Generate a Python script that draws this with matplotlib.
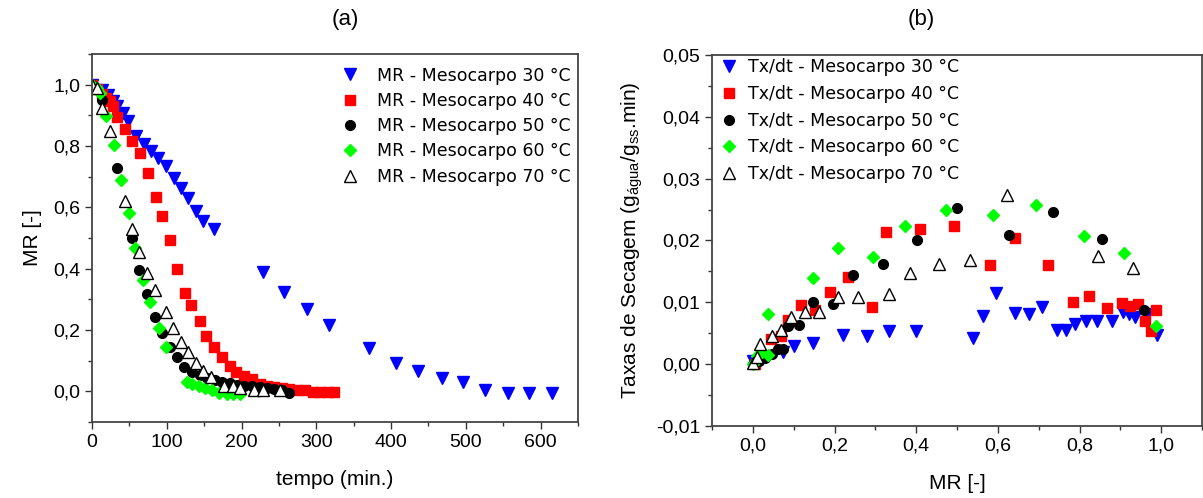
import matplotlib
matplotlib.use("Agg")
import matplotlib.pyplot as plt
from matplotlib.ticker import MultipleLocator, FuncFormatter

plt.rcParams['font.family'] = ['Liberation Sans', 'DejaVu Sans']
plt.rcParams['mathtext.fontset'] = 'custom'
plt.rcParams['mathtext.rm'] = 'Liberation Sans'
plt.rcParams['mathtext.it'] = 'Liberation Sans:italic'

# ---- (a) MR vs tempo ----
t_30 = [0, 14, 21, 28, 34, 41, 48, 59, 69, 79, 88, 99, 109, 119, 128, 139, 149, 163,
        228, 257, 287, 317, 371, 407, 436, 468, 496, 526, 556, 584, 615]
mr_30 = [1.0, 0.981, 0.965, 0.946, 0.930, 0.908, 0.881, 0.832, 0.805, 0.784, 0.760, 0.735,
         0.697, 0.664, 0.632, 0.589, 0.557, 0.530, 0.389, 0.324, 0.270, 0.216, 0.140,
         0.093, 0.067, 0.043, 0.029, 0.003, -0.004, -0.004, -0.006]

t_40 = [0, 7, 13, 19, 24, 28, 34, 44, 54, 64, 75, 85, 94, 104, 114, 124, 133, 144, 153,
        163, 174, 184, 193, 203, 214, 224, 234, 244, 254, 264, 274, 285, 296, 305, 316, 324]
mr_40 = [1.0, 0.985, 0.968, 0.955, 0.946, 0.930, 0.894, 0.857, 0.816, 0.777, 0.711, 0.635,
         0.572, 0.494, 0.400, 0.321, 0.281, 0.230, 0.181, 0.145, 0.113, 0.083, 0.063, 0.051,
         0.040, 0.024, 0.019, 0.014, 0.010, 0.007, 0.005, 0.003, -0.001, -0.003, -0.003, -0.003]

t_50 = [0, 14, 34, 53, 63, 73, 84, 94, 104, 113, 123, 134, 144, 154, 164, 174, 184, 194,
        203, 214, 224, 234, 244, 254, 263]
mr_50 = [1.0, 0.951, 0.727, 0.500, 0.396, 0.316, 0.241, 0.191, 0.143, 0.113, 0.080, 0.064,
         0.054, 0.043, 0.037, 0.032, 0.027, 0.021, 0.019, 0.016, 0.014, 0.010, 0.007, 0.003, -0.004]

t_60 = [0, 7, 11, 19, 29, 39, 49, 57, 68, 78, 89, 99, 127, 134, 143, 151, 161, 170, 180, 188, 198]
mr_60 = [1.0, 0.99, 0.973, 0.897, 0.803, 0.689, 0.580, 0.468, 0.362, 0.291, 0.205, 0.143,
         0.032, 0.024, 0.018, 0.010, 0.003, -0.004, -0.008, -0.009, -0.008]

t_70 = [0, 7, 13, 24, 44, 53, 63, 73, 84, 99, 108, 119, 128, 139, 149, 159, 176, 188, 198,
        216, 228, 252]
mr_70 = [1.0, 0.99, 0.924, 0.848, 0.621, 0.530, 0.454, 0.385, 0.332, 0.259, 0.208, 0.162,
         0.129, 0.093, 0.067, 0.046, 0.019, 0.016, 0.010, 0.005, 0.005, 0.003]

# ---- (b) taxa de secagem vs MR ----
x_30 = [0.0, 0.073, 0.101, 0.146, 0.221, 0.279, 0.333, 0.400, 0.540, 0.564, 0.596, 0.642,
        0.675, 0.708, 0.744, 0.767, 0.789, 0.816, 0.842, 0.879, 0.906, 0.922, 0.936, 0.965, 0.989]
y_30 = [0.0005, 0.0020, 0.0029, 0.0034, 0.0047, 0.0045, 0.0054, 0.0053, 0.0042, 0.0078,
        0.0115, 0.0083, 0.0081, 0.0092, 0.0056, 0.0056, 0.0065, 0.0069, 0.0069, 0.0069,
        0.0085, 0.0081, 0.0077, 0.0081, 0.0047]

x_40 = [0.005, 0.045, 0.068, 0.085, 0.117, 0.152, 0.189, 0.234, 0.291, 0.325, 0.409, 0.493,
        0.581, 0.642, 0.722, 0.785, 0.824, 0.868, 0.904, 0.924, 0.942, 0.961, 0.975, 0.988]
y_40 = [0.0000, 0.0040, 0.0045, 0.0072, 0.0096, 0.0088, 0.0117, 0.0141, 0.0093, 0.0214,
        0.0219, 0.0223, 0.0161, 0.0204, 0.0161, 0.0101, 0.0111, 0.0091, 0.0099, 0.0094,
        0.0097, 0.0069, 0.0054, 0.0088]

x_50 = [0.0, 0.015, 0.030, 0.047, 0.062, 0.074, 0.085, 0.113, 0.148, 0.197, 0.246, 0.319,
        0.401, 0.500, 0.627, 0.734, 0.856, 0.957]
y_50 = [0.0000, 0.0005, 0.0010, 0.0016, 0.0024, 0.0025, 0.0061, 0.0064, 0.0100, 0.0097,
        0.0144, 0.0162, 0.0200, 0.0253, 0.0209, 0.0246, 0.0202, 0.0088]

x_60 = [0.0, 0.010, 0.022, 0.037, 0.036, 0.146, 0.209, 0.293, 0.373, 0.473, 0.587, 0.694,
        0.812, 0.908, 0.988]
y_60 = [0.0000, 0.0013, 0.0019, 0.0015, 0.0081, 0.0139, 0.0188, 0.0173, 0.0223, 0.0249,
        0.0241, 0.0257, 0.0208, 0.0179, 0.0062]

x_70 = [0.001, 0.010, 0.017, 0.047, 0.069, 0.093, 0.127, 0.163, 0.209, 0.258, 0.333, 0.386,
        0.455, 0.531, 0.623, 0.846, 0.930]
y_70 = [0.0002, 0.0011, 0.0032, 0.0045, 0.0055, 0.0076, 0.0085, 0.0085, 0.0109, 0.0109,
        0.0113, 0.0148, 0.0162, 0.0169, 0.0274, 0.0175, 0.0156]

temps = ['30', '40', '50', '60', '70']
styles = [
    dict(marker='v', ms=9, mfc='#0000ff', mec='#0000ff'),
    dict(marker='s', ms=7, mfc='#ff0000', mec='#ff0000'),
    dict(marker='o', ms=7, mfc='black', mec='black'),
    dict(marker='D', ms=6, mfc='#00ff00', mec='#00ff00'),
    dict(marker='^', ms=8.5, mfc='white', mec='black', mew=1.0),
]

fig = plt.figure(figsize=(12.03, 4.98), dpi=100)
ax_a = fig.add_axes([0.0765, 0.1526, 0.404, 0.739])
ax_b = fig.add_axes([0.5919, 0.1446, 0.4073, 0.745])

comma1 = FuncFormatter(lambda v, p: f"{round(v, 1) + 0.0:.1f}".replace('.', ','))
comma2 = FuncFormatter(lambda v, p: f"{round(v, 2) + 0.0:.2f}".replace('.', ','))

tx = [t_30, t_40, t_50, t_60, t_70]
mr = [mr_30, mr_40, mr_50, mr_60, mr_70]
for t, m, tp, st in zip(tx, mr, temps, styles):
    ax_a.plot(t, m, ls='none', label=f"MR - Mesocarpo {tp} °C", **st)

xb = [x_30, x_40, x_50, x_60, x_70]
yb = [y_30, y_40, y_50, y_60, y_70]
for x, y, tp, st in zip(xb, yb, temps, styles):
    ax_b.plot(x, y, ls='none', label=f"Tx/dt - Mesocarpo {tp} °C", **st)

ax_a.set_xlim(0, 650)
ax_a.set_ylim(-0.1, 1.1)
ax_a.xaxis.set_major_locator(MultipleLocator(100))
ax_a.xaxis.set_minor_locator(MultipleLocator(50))
ax_a.yaxis.set_major_locator(MultipleLocator(0.2))
ax_a.yaxis.set_minor_locator(MultipleLocator(0.1))
ax_a.yaxis.set_major_formatter(comma1)
ax_a.set_xlabel("tempo (min.)", fontsize=15, labelpad=14)
ax_a.set_ylabel("MR [-]", fontsize=15, labelpad=8)

ax_b.set_xlim(-0.1, 1.1)
ax_b.set_ylim(-0.01, 0.05)
ax_b.xaxis.set_major_locator(MultipleLocator(0.2))
ax_b.xaxis.set_minor_locator(MultipleLocator(0.1))
ax_b.yaxis.set_major_locator(MultipleLocator(0.01))
ax_b.yaxis.set_minor_locator(MultipleLocator(0.005))
ax_b.xaxis.set_major_formatter(comma1)
ax_b.yaxis.set_major_formatter(comma2)
ax_b.set_xlabel("MR [-]", fontsize=15, labelpad=14)
ax_b.set_ylabel(r"Taxas de Secagem (g$_{\mathrm{água}}$/g$_{\mathrm{ss}}$.min)", fontsize=15, labelpad=8)

for ax in (ax_a, ax_b):
    ax.tick_params(which='both', direction='out', labelsize=14, width=1.0, color='#333333')
    ax.tick_params(which='major', length=5)
    ax.tick_params(which='minor', length=3)
    for s in ax.spines.values():
        s.set_color('#444444')
        s.set_linewidth(1.3)

leg_font = dict(family='DejaVu Sans', size=12.5)
ax_a.legend(loc='upper right', bbox_to_anchor=(0.995, 0.98), frameon=False, prop=leg_font,
            handletextpad=0.95, labelspacing=0.42, borderaxespad=0.1, borderpad=0.2,
            handlelength=1.2)
ax_b.legend(loc='upper left', bbox_to_anchor=(0.003, 1.005), frameon=False, prop=leg_font,
            handletextpad=0.5, labelspacing=0.5, borderaxespad=0.1, borderpad=0.2,
            handlelength=1.2)

fig.text(0.287, 0.96, "(a)", fontsize=16, ha='center', va='center')
fig.text(0.7655, 0.96, "(b)", fontsize=16, ha='center', va='center')

fig.savefig("out.png", dpi=100)
